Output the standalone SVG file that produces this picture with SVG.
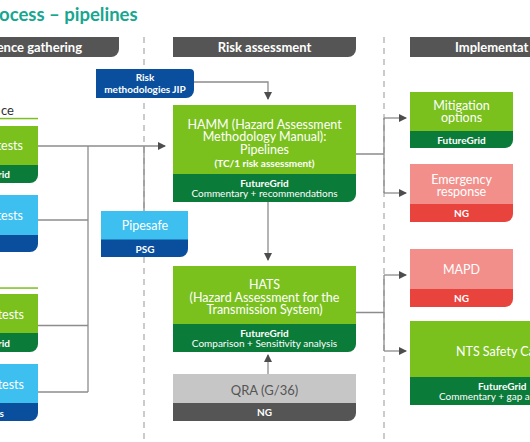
<svg xmlns="http://www.w3.org/2000/svg" width="530" height="442" viewBox="0 0 530 442">
<defs>
<marker id="arr" markerUnits="userSpaceOnUse" markerWidth="8" markerHeight="8" refX="7" refY="4" orient="auto">
<path d="M0 0 L8 4 L0 8 Z" fill="#4d4d4d"/>
</marker>
<style>
text{font-family:"Lato","Liberation Sans",Arial,sans-serif;}
.hd{fill:#555555;}
.hdt{fill:#ffffff;font-size:13px;font-weight:bold;}
.lg{fill:#7ac11e;}
.dg{fill:#0b7b3a;}
.lb{fill:#3dc0f0;}
.db{fill:#0a4f9d;}
.pk{fill:#f38f8b;}
.rd{fill:#e9433d;}
.gy{fill:#c6c6c6;}
.dgy{fill:#555555;}
.t{fill:#ffffff;font-size:12.5px;text-anchor:middle;}
.tl{fill:#ffffff;font-size:12.5px;}
.b{fill:#ffffff;font-size:10px;font-weight:bold;text-anchor:middle;}
.s{fill:#ffffff;font-size:10px;text-anchor:middle;}
.c{fill:none;stroke:#8c8c8c;stroke-width:1.3;}
.ca{fill:none;stroke:#8c8c8c;stroke-width:1.3;marker-end:url(#arr);}
.div{stroke:#b0b0b0;stroke-width:1.3;stroke-dasharray:6 5;fill:none;}
</style>
</defs>
<rect width="530" height="442" fill="#ffffff"/>
<text x="-1" y="21" style="font-size:18.5px;font-weight:bold;fill:#17a68f;">ocess – pipelines</text>

<g id="dividers">
<path class="div" d="M144 37 V440"/>
<path class="div" d="M384 37 V440"/>
</g>

<g id="headers">
<path class="hd" d="M-10 37 H119 V49 A8 8 0 0 1 111 57 H-10 Z"/>
<text class="hdt" x="82" y="51.5" text-anchor="end">ence gathering</text>
<path class="hd" d="M173 37 H356 V49 A8 8 0 0 1 348 57 H173 Z"/>
<text class="hdt" x="264.5" y="51.5" text-anchor="middle">Risk assessment</text>
<rect class="hd" x="410" y="37" width="130" height="20"/>
<text class="hdt" x="455" y="51.5">Implementat</text>
</g>

<g id="evidence-label">
<text x="14" y="115" text-anchor="end" style="font-size:13px;fill:#333333;">ce</text>
<rect x="0" y="117.8" width="38" height="1.5" fill="#7ac11e"/>
<rect x="0" y="287.3" width="38" height="1.5" fill="#7ac11e"/>
</g>

<g id="connectors">
<path class="ca" d="M38 146 H165"/>
<path class="c" d="M88 146 V392"/>
<path class="c" d="M38 220 H88"/>
<path class="c" d="M38 325.5 H88"/>
<path class="c" d="M38 392 H88"/>
<path class="c" d="M144 146 V211"/>
<path class="ca" d="M194 82 H268 V99"/>
<path class="ca" d="M268 202 V260"/>
<path class="ca" d="M268 374 V355"/>
<path class="c" d="M356 154 H384 M384 118 V193"/>
<path class="ca" d="M384 118 H406"/>
<path class="ca" d="M384 193 H406"/>
<path class="c" d="M356 312.5 H384 M384 275 V351"/>
<path class="ca" d="M384 275 H406"/>
<path class="ca" d="M384 351 H406"/>
</g>

<g id="ev1">
<rect class="lg" x="-10" y="126" width="48" height="40"/>
<path class="dg" d="M-10 165 H38 V175 A8 8 0 0 1 30 183 H-10 Z"/>
<text class="tl" x="23" y="150" text-anchor="end">tests</text>
<text x="10" y="177.5" text-anchor="end" style="fill:#fff;font-size:10px;font-weight:bold;">rid</text>
</g>
<g id="ev2">
<rect class="lb" x="-10" y="195" width="48" height="41"/>
<path class="db" d="M-10 235 H38 V244 A8 8 0 0 1 30 252 H-10 Z"/>
<text class="tl" x="23" y="220" text-anchor="end">tests</text>
</g>
<g id="ev3">
<rect class="lg" x="-10" y="294" width="48" height="40"/>
<path class="dg" d="M-10 333 H38 V344 A8 8 0 0 1 30 352 H-10 Z"/>
<text class="tl" x="24" y="319" text-anchor="end">tests</text>
<text x="10" y="346.5" text-anchor="end" style="fill:#fff;font-size:10px;font-weight:bold;">rid</text>
</g>
<g id="ev4">
<rect class="lb" x="-10" y="364" width="48" height="40"/>
<path class="db" d="M-10 403 H38 V413 A8 8 0 0 1 30 421 H-10 Z"/>
<text class="tl" x="24" y="388.5" text-anchor="end">tests</text>
<text x="4" y="416.5" text-anchor="end" style="fill:#fff;font-size:10px;font-weight:bold;">s</text>
</g>

<g id="jip">
<path class="db" d="M96 69 H190 A4 4 0 0 1 194 73 V90 A8 8 0 0 1 186 98 H96 Z"/>
<text class="b" x="145" y="81">Risk</text>
<text class="b" x="145" y="93">methodologies JIP</text>
</g>

<g id="pipesafe">
<rect class="lb" x="101" y="211" width="87" height="29"/>
<path class="db" d="M101 239.5 H188 V249 A8 8 0 0 1 180 257 H101 Z"/>
<text class="t" x="145" y="230">Pipesafe</text>
<text class="b" x="145" y="252.5">PSG</text>
</g>

<g id="hamm">
<rect class="lg" x="173" y="105" width="183" height="70"/>
<path class="dg" d="M173 174 H356 V194 A8 8 0 0 1 348 202 H173 Z"/>
<text class="t" x="264.5" y="128.5">HAMM (Hazard Assessment</text>
<text class="t" x="264.5" y="141">Methodology Manual):</text>
<text class="t" x="264.5" y="153.5">Pipelines</text>
<text class="b" x="264.5" y="166.5">(TC/1 risk assessment)</text>
<text class="b" x="264.5" y="186.5">FutureGrid</text>
<text class="s" x="264.5" y="197">Commentary + recommendations</text>
</g>

<g id="hats">
<rect class="lg" x="173" y="266" width="183" height="59"/>
<path class="dg" d="M173 324 H356 V344 A8 8 0 0 1 348 352 H173 Z"/>
<text class="t" x="264.5" y="289">HATS</text>
<text class="t" x="264.5" y="301.5">(Hazard Assessment for the</text>
<text class="t" x="264.5" y="314">Transmission System)</text>
<text class="b" x="264.5" y="336.5">FutureGrid</text>
<text class="s" x="264.5" y="347">Comparison + Sensitivity analysis</text>
</g>

<g id="qra">
<rect class="gy" x="173" y="374" width="183" height="30"/>
<path class="dgy" d="M173 403 H356 V413 A8 8 0 0 1 348 421 H173 Z"/>
<text x="264.5" y="394.5" text-anchor="middle" style="fill:#555555;font-size:13px;">QRA (G/36)</text>
<text class="b" x="264.5" y="415.5">NG</text>
</g>

<g id="mitigation">
<rect class="lg" x="410" y="92" width="103" height="40"/>
<path class="dg" d="M410 131 H513 V140 A8 8 0 0 1 505 148 H410 Z"/>
<text class="t" x="461.5" y="109.5">Mitigation</text>
<text class="t" x="461.5" y="122">options</text>
<text class="b" x="461.5" y="144">FutureGrid</text>
</g>

<g id="emergency">
<rect class="pk" x="410" y="164" width="103" height="41"/>
<path class="rd" d="M410 204 H513 V214 A8 8 0 0 1 505 222 H410 Z"/>
<text class="t" x="461.5" y="183.5">Emergency</text>
<text class="t" x="461.5" y="196">response</text>
<text class="b" x="461.5" y="217">NG</text>
</g>

<g id="mapd">
<rect class="pk" x="410" y="249" width="103" height="41"/>
<path class="rd" d="M410 289 H513 V299 A8 8 0 0 1 505 307 H410 Z"/>
<text class="t" x="461.5" y="274">MAPD</text>
<text class="b" x="461.5" y="302">NG</text>
</g>

<g id="nts">
<rect class="lg" x="410" y="321" width="130" height="57"/>
<rect class="dg" x="410" y="377" width="130" height="28"/>
<text class="tl" x="456" y="355.5">NTS Safety Ca</text>
<text x="478" y="389.5" style="fill:#fff;font-size:10px;font-weight:bold;">FutureGrid</text>
<text x="439" y="399.5" style="fill:#fff;font-size:10px;">Commentary + gap a</text>
</g>
</svg>
